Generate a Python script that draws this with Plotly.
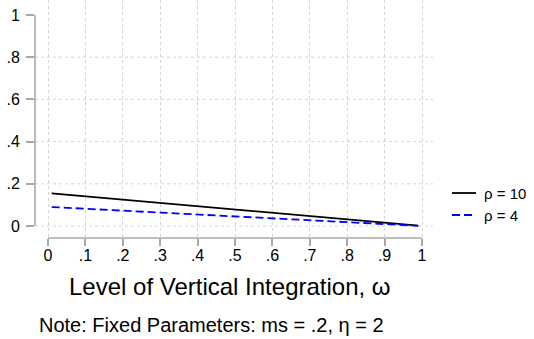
import plotly.graph_objects as go

# Level of vertical integration (omega) and the two rho curves
omega = [0.01, 0.25, 0.50, 0.75, 0.99]
rho10 = [0.155, 0.118, 0.079, 0.040, 0.002]
rho4 = [0.090, 0.068, 0.046, 0.023, 0.001]

series_names = ["ρ = 10", "ρ = 4"]
series_colors = ["#000000", "#0000ff"]
series_dash = ["solid", "8px,4px"]

x_ticks = [0, 0.1, 0.2, 0.3, 0.4, 0.5, 0.6, 0.7, 0.8, 0.9, 1]
x_labels = ["0", ".1", ".2", ".3", ".4", ".5", ".6", ".7", ".8", ".9", "1"]
y_ticks = [0, 0.2, 0.4, 0.6, 0.8, 1]
y_labels = ["0", ".2", ".4", ".6", ".8", "1"]
y_grid = [0, 0.2, 0.4, 0.6, 0.8]

FONT = "Liberation Sans, Arial, sans-serif"
AXIS_GRAY = "#a9a9a9"
GRID_GRAY = "#d4d4d4"

W, H = 534, 339
ML, MR, MT, MB = 35, 101, 0, 101

fig = go.Figure()
for name, ys, col, dash in zip(series_names, [rho10, rho4], series_colors, series_dash):
    fig.add_trace(go.Scatter(
        x=omega, y=ys, mode="lines", name=name,
        line=dict(color=col, width=1.8, dash=dash),
        showlegend=False,
    ))

shapes = []
# horizontal dotted grid
for g in y_grid:
    shapes.append(dict(type="line", xref="paper", yref="y", x0=0, x1=1, y0=g, y1=g,
                       line=dict(color=GRID_GRAY, width=1, dash="dot"), layer="below"))
# axis lines spanning only the tick range
shapes.append(dict(type="line", xref="paper", yref="y", x0=0, x1=0, y0=y_ticks[0], y1=y_ticks[-1],
                   line=dict(color=AXIS_GRAY, width=1.6)))
shapes.append(dict(type="line", xref="x", yref="paper", x0=x_ticks[0], x1=x_ticks[-1], y0=0, y1=0,
                   line=dict(color=AXIS_GRAY, width=1.6)))

# legend drawn at the right of the plot
plot_w = W - ML - MR
plot_h = H - MT - MB
def px_x(p):
    return (p - ML) / plot_w
def px_y(p):
    return (H - MB - p) / plot_h

annotations = []
for i, (name, col, dash) in enumerate(zip(series_names, series_colors, series_dash)):
    yy = px_y(193 + 22 * i)
    shapes.append(dict(type="line", xref="paper", yref="paper", x0=px_x(452), x1=px_x(476),
                       y0=yy, y1=yy, line=dict(color=col, width=1.8, dash=dash)))
    annotations.append(dict(xref="paper", yref="paper", x=px_x(482), y=yy, text=name,
                            showarrow=False, xanchor="left", yanchor="middle",
                            font=dict(family=FONT, size=15, color="#000")))

annotations.append(dict(xref="paper", yref="paper", x=px_x(230), y=px_y(286),
                        text="Level of Vertical Integration, ω", showarrow=False,
                        xanchor="center", yanchor="middle",
                        font=dict(family=FONT, size=24, color="#000")))
annotations.append(dict(xref="paper", yref="paper", x=px_x(37), y=px_y(325),
                        text="Note: Fixed Parameters: ms = .2, η = 2", showarrow=False,
                        xanchor="left", yanchor="middle",
                        font=dict(family=FONT, size=20, color="#000")))

fig.update_layout(
    width=W, height=H,
    margin=dict(l=ML, r=MR, t=MT, b=MB),
    paper_bgcolor="white", plot_bgcolor="white",
    showlegend=False,
    shapes=shapes, annotations=annotations,
    xaxis=dict(range=[-13 / 374, 1 + 11 / 374], tickvals=x_ticks, ticktext=x_labels,
               showgrid=True, gridcolor=GRID_GRAY, griddash="dot", gridwidth=1,
               zeroline=False, showline=False, ticks="outside", ticklen=7,
               tickwidth=1.6, tickcolor=AXIS_GRAY, ticklabelstandoff=-4,
               tickfont=dict(family=FONT, size=16, color="#000"), fixedrange=True),
    yaxis=dict(range=[-12 / 211.5, 1 + 15 / 211.5], tickvals=y_ticks, ticktext=y_labels,
               showgrid=False, zeroline=False, showline=False, ticks="outside", ticklen=8,
               tickwidth=1.6, tickcolor=AXIS_GRAY, ticklabelstandoff=3,
               tickfont=dict(family=FONT, size=16, color="#000"), fixedrange=True),
)

fig.write_html("out.html")
